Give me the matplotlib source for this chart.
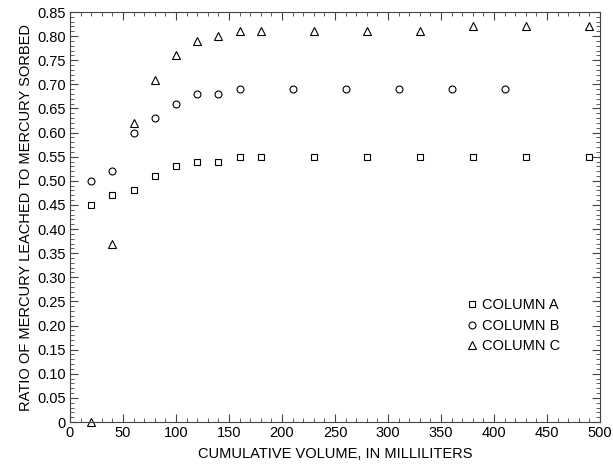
import matplotlib
matplotlib.use("Agg")
import matplotlib.pyplot as plt
from matplotlib.ticker import MultipleLocator

plt.rcParams['font.family'] = ['Liberation Sans', 'DejaVu Sans']

# volumes in milliliters
vol_a = [20, 40, 60, 80, 100, 120, 140, 160, 180, 230, 280, 330, 380, 430, 490]
ratio_a = [0.45, 0.47, 0.48, 0.51, 0.53, 0.54, 0.54, 0.55, 0.55, 0.55, 0.55, 0.55, 0.55, 0.55, 0.55]

vol_b = [20, 40, 60, 80, 100, 120, 140, 160, 210, 260, 310, 360, 410]
ratio_b = [0.50, 0.52, 0.60, 0.63, 0.66, 0.68, 0.68, 0.69, 0.69, 0.69, 0.69, 0.69, 0.69]

vol_c = [20, 40, 60, 80, 100, 120, 140, 160, 180, 230, 280, 330, 380, 430, 490]
ratio_c = [0.00, 0.37, 0.62, 0.71, 0.76, 0.79, 0.80, 0.81, 0.81, 0.81, 0.81, 0.81, 0.82, 0.82, 0.82]

fig = plt.figure(figsize=(6.13, 4.65), dpi=100)
ax = fig.add_axes([70 / 613, 43 / 465, 530 / 613, 410 / 465])

ax.plot(vol_a, ratio_a, 's', ms=5, mfc='white', mec='black', mew=0.8, label='COLUMN A', clip_on=False)
ax.plot(vol_b, ratio_b, 'o', ms=5, mfc='white', mec='black', mew=0.8, label='COLUMN B', clip_on=False)
ax.plot(vol_c, ratio_c, '^', ms=5.5, mfc='white', mec='black', mew=0.8, label='COLUMN C', clip_on=False)

ax.set_xlim(0, 500)
ax.set_ylim(0, 0.85)
ax.xaxis.set_major_locator(MultipleLocator(50))
ax.xaxis.set_minor_locator(MultipleLocator(10))
ax.yaxis.set_minor_locator(MultipleLocator(0.01))
ax.set_yticks([i * 0.05 for i in range(18)])
ax.set_yticklabels(['0'] + ['%.2f' % (i * 0.05) for i in range(1, 18)])
ax.tick_params(which='both', direction='in', top=True, right=True, labelsize=10.5, color='#444444')
ax.tick_params(which='major', length=6, pad=3)
ax.tick_params(which='minor', length=3)
for s in ax.spines.values():
    s.set_color('#444444')

ax.set_xlabel('CUMULATIVE VOLUME, IN MILLILITERS', fontsize=10.5, labelpad=5)
ax.set_ylabel('RATIO OF MERCURY LEACHED TO MERCURY SORBED', fontsize=10.5, labelpad=3)

ax.legend(loc='center left', bbox_to_anchor=(0.728, 0.235), frameon=False, fontsize=10.5,
          handletextpad=0.1, handlelength=1.2, labelspacing=0.45, borderpad=0)

fig.savefig('out.png', dpi=100)
